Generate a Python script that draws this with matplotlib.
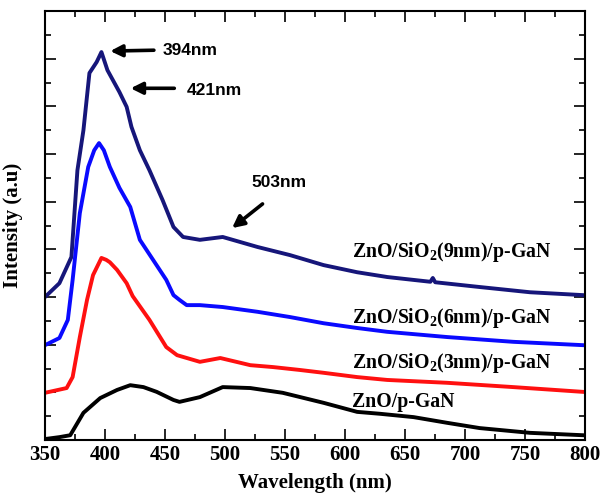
import matplotlib
matplotlib.use("Agg")
import matplotlib.pyplot as plt
from matplotlib.ticker import MultipleLocator, NullFormatter

# traced PL spectra (wavelength nm, intensity a.u.)
wl_9nm = [350, 362, 372, 377, 382, 387, 393, 397, 402, 412, 418, 422, 429, 437,
          448, 457, 465, 479, 498, 527, 554, 582, 610, 635, 671, 673, 675, 712,
          754, 798]
i_9nm = [3.00, 3.29, 3.84, 5.66, 6.50, 7.70, 7.93, 8.14, 7.76, 7.30, 6.99, 6.57,
         6.08, 5.66, 5.03, 4.47, 4.26, 4.20, 4.26, 4.05, 3.88, 3.67, 3.52, 3.42,
         3.32, 3.40, 3.31, 3.21, 3.10, 3.04]

wl_6nm = [350, 362, 369, 373, 379, 386, 391, 395, 399, 404, 412, 421, 429, 440,
          451, 457, 462, 468, 479, 498, 527, 554, 582, 610, 635, 685, 740, 798]
i_6nm = [1.99, 2.14, 2.52, 3.36, 4.76, 5.73, 6.08, 6.23, 6.08, 5.73, 5.29, 4.89,
         4.20, 3.78, 3.36, 3.04, 2.94, 2.83, 2.83, 2.79, 2.69, 2.58, 2.45, 2.35,
         2.27, 2.16, 2.06, 1.99]

wl_3nm = [350, 368, 373, 379, 385, 390, 397, 401, 404, 410, 418, 423, 437, 451,
          460, 479, 496, 521, 540, 562, 582, 610, 635, 685, 740, 798]
i_3nm = [0.99, 1.09, 1.32, 2.16, 2.94, 3.46, 3.82, 3.78, 3.73, 3.57, 3.29, 3.02,
         2.52, 1.95, 1.78, 1.64, 1.72, 1.57, 1.53, 1.47, 1.41, 1.32, 1.26, 1.20,
         1.11, 1.01]

wl_0nm = [350, 362, 371, 382, 396, 410, 421, 432, 443, 457, 462, 479, 498, 521,
          548, 582, 610, 629, 657, 685, 712, 754, 798]
i_0nm = [0.02, 0.06, 0.10, 0.57, 0.88, 1.05, 1.15, 1.11, 1.01, 0.84, 0.80, 0.90,
         1.11, 1.09, 0.99, 0.78, 0.59, 0.55, 0.48, 0.36, 0.25, 0.15, 0.10]

series = [(wl_9nm, i_9nm, "#16167a"), (wl_6nm, i_6nm, "#0a0aff"),
          (wl_3nm, i_3nm, "#ff1010"), (wl_0nm, i_0nm, "black")]

labels = ["ZnO/SiO$_\\mathbf{2}$(9nm)/p-GaN", "ZnO/SiO$_\\mathbf{2}$(6nm)/p-GaN",
          "ZnO/SiO$_\\mathbf{2}$(3nm)/p-GaN", "ZnO/p-GaN"]
label_y = [3.95, 2.57, 1.62, 0.79]

plt.rcParams["mathtext.fontset"] = "custom"
plt.rcParams["mathtext.bf"] = "Liberation Serif:bold"
plt.rcParams["mathtext.rm"] = "Liberation Serif:bold"

fig = plt.figure(figsize=(6.05, 5.04), dpi=100)
ax = fig.add_axes([0.0744, 0.127, 0.893, 0.851])

for x, y, c in series:
    ax.plot(x, y, color=c, lw=2.8, solid_joinstyle="round")

serif = dict(family="Liberation Serif", weight="bold")
for lab, ly in zip(labels, label_y):
    ax.text(606, ly, lab, fontsize=14.2, ha="left", va="center", **serif)

arr = dict(arrowstyle="-|>,head_length=0.7,head_width=0.35", color="black", lw=2.6)
sans = dict(family="Liberation Sans", weight="bold", fontsize=12.5)
ax.annotate("", xy=(402, 8.16), xytext=(443, 8.18), arrowprops=arr)
ax.text(448, 8.18, "394nm", va="center", ha="left", **sans)
ax.annotate("", xy=(419, 7.38), xytext=(460, 7.38), arrowprops=arr)
ax.text(468, 7.34, "421nm", va="center", ha="left", **sans)
ax.annotate("", xy=(504, 4.41), xytext=(533, 4.99), arrowprops=arr)
ax.text(545, 5.41, "503nm", va="center", ha="center", **sans)

ax.set_xlim(350, 800)
ax.set_ylim(0, 9)
ax.xaxis.set_major_locator(MultipleLocator(50))
ax.xaxis.set_minor_locator(MultipleLocator(25))
ax.yaxis.set_major_locator(MultipleLocator(1))
ax.yaxis.set_minor_locator(MultipleLocator(0.5))
ax.yaxis.set_major_formatter(NullFormatter())
ax.tick_params(which="both", direction="in", top=True, right=True, width=1.2)
ax.tick_params(which="major", length=8)
ax.tick_params(which="minor", length=4)
for lbl in ax.get_xticklabels():
    lbl.set_fontfamily("Liberation Serif")
    lbl.set_fontweight("bold")
    lbl.set_fontsize(15)
for s in ax.spines.values():
    s.set_linewidth(1.5)

ax.set_xlabel("Wavelength (nm)", fontsize=15, labelpad=6, **serif)
ax.set_ylabel("Intensity (a.u)", fontsize=15, labelpad=12, **serif)

fig.savefig("out.png", dpi=100)
